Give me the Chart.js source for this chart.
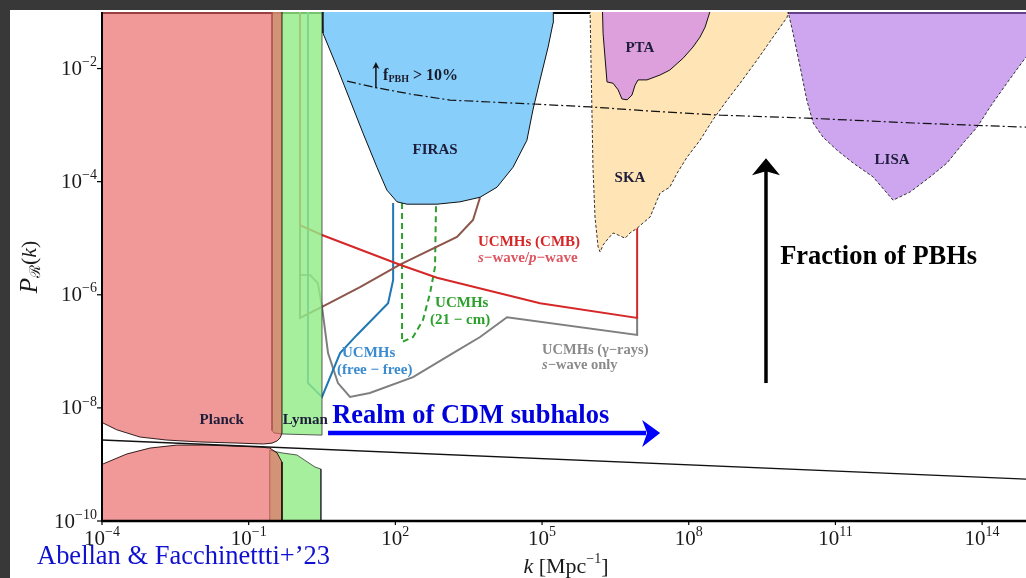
<!DOCTYPE html>
<html>
<head>
<meta charset="utf-8">
<script src="https://cdn.jsdelivr.net/npm/chart.js@4.4.1/dist/chart.umd.min.js"></script>
<style>
  html, body { margin: 0; padding: 0; background: #383838; overflow: hidden; }
  canvas { display: block; }
</style>
</head>
<body>
<canvas id="c" width="1026" height="578"></canvas>
<script>
// ---- axes: k in Mpc^-1, curvature power spectrum P_R(k) ----
const kRange = [1e-4, 7.9e14];
const pRange = [1e-10, 1e-1];
const xTickExps = [-4, -1, 2, 5, 8, 11, 14];
const yTickExps = [-10, -8, -6, -4, -2];

// ---- excluded / sensitivity regions, outlines as [k, P] ----
const planckUpper = [[8e-5, 0.2], [8e-5, 5.6e-9], [1.05e-4, 5.4e-9], [2.0e-4, 4.1e-9], [6.0e-4, 3.05e-9],
  [2.1e-3, 2.7e-9], [1.0e-2, 2.5e-9], [4.8e-2, 2.4e-9], [0.2, 2.3e-9], [0.3, 2.38e-9], [0.38, 2.6e-9],
  [0.44, 2.95e-9], [0.48, 3.6e-9], [0.48, 0.2]];
const planckLower = [[8e-5, 1e-11], [8e-5, 0.95e-9], [1.05e-4, 1.02e-9], [3.2e-4, 1.53e-9], [9.6e-4, 1.95e-9],
  [3.4e-3, 2.2e-9], [1.4e-2, 2.2e-9], [0.17, 2.03e-9], [0.27, 1.95e-9], [0.38, 1.6e-9], [0.48, 1.1e-9], [0.48, 1e-11]];
const lymanUpper = [[0.3, 0.2], [0.3, 4.0e-9], [0.33, 3.6e-9], [0.5, 3.45e-9], [3.16, 3.3e-9], [3.16, 0.2]];
const lymanLower = [[0.27, 1e-11], [0.27, 1.8e-9], [0.38, 1.66e-9], [0.5, 1.59e-9], [0.97, 1.47e-9],
  [2.27, 9.0e-10], [3.0, 8.3e-10], [3.0, 1e-11]];
const firas = [[2.6, 0.2], [3.16, 0.1], [3.3, 0.0425], [6.4, 0.0106], [11.8, 2.77e-3], [21.8, 7.2e-4],
  [42, 1.8e-4], [67, 7.1e-5], [108, 4.4e-5], [173, 4.0e-5], [711, 4.0e-5], [2100, 4.4e-5], [5400, 5.3e-5],
  [1.2e4, 8.0e-5], [2.55e4, 1.8e-4], [4.9e4, 5.4e-4], [6.5e4, 1.85e-3], [9.1e4, 6.3e-3], [1.33e5, 0.024],
  [1.68e5, 0.064], [1.7e5, 0.2]];
const pta = [[1.69e6, 0.2], [1.77e6, 0.042], [2.13e6, 5.8e-3], [2.83e6, 5.5e-3], [3.6e6, 4.2e-3],
  [4.3e6, 2.9e-3], [5.5e6, 2.8e-3], [6.9e6, 3.4e-3], [8.0e6, 5.1e-3], [9.2e6, 6.3e-3], [1.4e7, 6.3e-3],
  [2.6e7, 7.7e-3], [4.1e7, 9.4e-3], [7.7e7, 0.0153], [1.22e8, 0.024], [1.7e8, 0.036], [2.16e8, 0.054],
  [2.7e8, 0.1], [2.9e8, 0.2]];
const ska = [[9.6e5, 0.2], [9.6e5, 0.1], [1.1e6, 1.8e-4], [1.21e6, 2.37e-5], [1.4e6, 7.0e-6], [1.54e6, 5.7e-6],
  [1.77e6, 7.6e-6], [2.13e6, 9.3e-6], [2.83e6, 1.24e-5], [3.6e6, 1.14e-5], [5.0e6, 1.0e-5], [6.3e6, 1.24e-5],
  [8.8e6, 1.5e-5], [1.16e7, 1.86e-5], [1.62e7, 2.37e-5], [2.25e7, 4.7e-5], [2.6e7, 6.3e-5], [4.1e7, 8.0e-5],
  [5.8e7, 1.42e-4], [9.2e7, 2.7e-4], [1.7e8, 5.4e-4], [3.1e8, 1.23e-3], [6.1e8, 2.77e-3], [1.12e9, 5.5e-3],
  [2.5e9, 0.0142], [5.3e9, 0.036], [1.03e10, 0.081], [1.08e10, 0.1], [1.1e10, 0.2]];
const lisa = [[1.08e10, 0.2], [1.08e10, 0.1], [1.36e10, 0.042], [1.9e10, 0.0106], [2.6e10, 2.77e-3],
  [3.5e10, 1.09e-3], [5.6e10, 6.1e-4], [1.08e11, 3.6e-4], [2.3e11, 2.14e-4], [5.9e11, 1.21e-4],
  [1.51e12, 4.7e-5], [3.4e12, 6.6e-5], [8.6e12, 1.21e-4], [1.92e13, 2.14e-4], [4.1e13, 4.8e-4],
  [7.9e13, 9.2e-4], [1.46e14, 2.1e-3], [3.2e14, 5.5e-3], [7.9e14, 0.016], [1.5e15, 0.04], [1.5e15, 0.2]];

// ---- curves ----
const primordial = [[1e-4, 2.7e-9], [7.9e14, 5.5e-10]];
const pbhTenPercent = [[10.3, 6.0e-3], [35, 4.7e-3], [200, 3.55e-3], [1310, 2.77e-3], [6.5e4, 2.36e-3],
  [9.6e5, 2.1e-3], [1.62e7, 1.77e-3], [4.4e8, 1.5e-3], [2.6e10, 1.33e-3], [3.9e12, 1.09e-3], [7.9e14, 9.2e-4]];
const ucmhCMB = [[1.12, 0.2], [1.12, 1.7e-5], [3.16, 1.14e-5], [124, 3.4e-6], [711, 2.0e-6], [9.1e4, 7.1e-7],
  [8.8e6, 3.9e-7], [8.8e6, 3e-5]];
const ucmhCMBp = [[1.12, 0.2], [1.12, 3.9e-7], [3.16, 6.1e-7], [18.9, 1.37e-6], [124, 3.4e-6], [1820, 1.05e-5],
  [3870, 2.1e-5], [5400, 5.3e-5]];
const ucmhFreeFree = [[1.63, 0.2], [1.63, 2.75e-8], [3.16, 1.56e-8], [7.4, 9.3e-8], [16.4, 1.95e-7],
  [71, 7.1e-7], [90, 1.82e-6], [90, 4.2e-5]];
const ucmh21cm = [[137, 4.2e-5], [137, 1.46e-7], [230, 1.79e-7], [368, 3.6e-7], [512, 1.07e-6], [647, 3.1e-6],
  [679, 4.2e-5]];
const ucmhGamma = [[1.12, 2.23e-6], [1.8, 2.23e-6], [2.6, 1.6e-6], [3.16, 6.1e-7], [4.2, 9.3e-8], [6.7, 2.75e-8],
  [11.8, 1.56e-8], [30, 1.83e-8], [230, 3.5e-8], [1510, 9.3e-8], [5400, 1.79e-7], [1.92e4, 4.0e-7],
  [8.8e6, 1.95e-7], [8.8e6, 3.9e-7]];

const SERIF = "'Liberation Serif','DejaVu Serif',serif";
const toXY = arr => arr.map(([x, y]) => ({ x, y }));

function area(label, pts, fill, border, order, dash) {
  return {
    label, data: toXY(pts), showLine: true, fill: 'shape', backgroundColor: fill,
    borderColor: border, borderWidth: 1, borderDash: dash || [], pointRadius: 0, order
  };
}
function curve(label, pts, color, width, order, dash) {
  return {
    label, data: toXY(pts), showLine: true, fill: false, borderColor: color,
    borderWidth: width, borderDash: dash || [], pointRadius: 0, order
  };
}

const datasets = [
  curve('UCMHs (CMB) s-wave', ucmhCMB, '#d62728', 2, 60),
  curve('UCMHs (CMB) p-wave', ucmhCMBp, '#8c564b', 2, 60),
  curve('UCMHs (free-free)', ucmhFreeFree, '#1f77b4', 2, 60),
  curve('UCMHs (21-cm)', ucmh21cm, '#2ca02c', 2, 60, [6, 4]),
  curve('UCMHs (gamma-rays)', ucmhGamma, '#7f7f7f', 2, 60),
  area('FIRAS', firas, 'rgb(135,206,250)', '#111', 55),
  area('SKA', ska, 'rgb(255,228,181)', '#333', 50, [3, 2]),
  area('PTA', pta, 'rgb(221,160,221)', '#111', 45),
  area('LISA', lisa, 'rgba(173,107,230,0.6)', '#333', 45, [3, 2]),
  area('Lyman-alpha', lymanUpper, 'rgba(146,236,136,0.82)', 'rgba(40,40,40,0.75)', 40),
  area('Lyman-alpha (low)', lymanLower, 'rgba(146,236,136,0.82)', 'rgba(40,40,40,0.75)', 40),
  area('Planck', planckUpper, 'rgba(233,97,97,0.65)', 'rgba(20,0,0,0.85)', 30),
  area('Planck (low)', planckLower, 'rgba(233,97,97,0.65)', 'rgba(20,0,0,0.85)', 30),
  curve('Primordial spectrum', primordial, '#111', 1.4, 10),
  curve('f_PBH > 10%', pbhTenPercent, '#111', 1.2, 5, [9, 3, 2, 3])
];

// runs of text with individual fonts and vertical offsets
function drawRuns(ctx, runs, x, y, align, color) {
  let total = 0;
  for (const r of runs) { ctx.font = r.f; r.w = ctx.measureText(r.t).width; total += r.w; }
  let cx = align === 'center' ? x - total / 2 : align === 'right' ? x - total : x;
  ctx.textAlign = 'left';
  ctx.textBaseline = 'middle';
  for (const r of runs) {
    ctx.font = r.f; ctx.fillStyle = r.c || color;
    ctx.fillText(r.t, cx, y + (r.dy || 0));
    cx += r.w;
  }
}
function drawFit(ctx, text, font, x, y, width, color) {
  ctx.font = font;
  const w = ctx.measureText(text).width;
  ctx.save();
  ctx.translate(x, y);
  ctx.scale(width / w, 1);
  ctx.textAlign = 'left'; ctx.textBaseline = 'middle';
  ctx.fillStyle = color;
  ctx.fillText(text, 0, 0);
  ctx.restore();
}
const bold = s => `bold ${s}px ${SERIF}`;
const bi = s => `italic bold ${s}px ${SERIF}`;
const reg = s => `${s}px ${SERIF}`;
const it = s => `italic ${s}px ${SERIF}`;

// labels placed at [k, P]
const regionNames = [
  { t: 'Planck', k: 0.028, p: 6.1e-9, a: 'center' },
  { t: 'Lyman', k: 0.5, p: 6.1e-9, a: 'left' },
  { t: 'FIRAS', k: 650, p: 3.6e-4, a: 'center' },
  { t: 'PTA', k: 1.0e7, p: 0.023, a: 'center' },
  { t: 'SKA', k: 6.3e6, p: 1.16e-4, a: 'center' },
  { t: 'LISA', k: 1.44e12, p: 2.4e-4, a: 'center' }
];
const curveNames = [
  { runs: [{ t: 'UCMHs (CMB)', f: bold(15) }], k: 4900, p: 8.6e-6, c: '#d62728' },
  { runs: [{ t: 's', f: bi(15) }, { t: '\u2212wave/', f: bold(15) }, { t: 'p', f: bi(15) }, { t: '\u2212wave', f: bold(15) }], k: 4900, p: 4.5e-6, c: '#de5560' },
  { runs: [{ t: 'UCMHs', f: bold(15) }], k: 650, p: 7.1e-7, c: '#2ca02c' },
  { runs: [{ t: '(21 \u2212 cm)', f: bold(15) }], k: 512, p: 3.6e-7, c: '#2ca02c' },
  { runs: [{ t: 'UCMHs', f: bold(15) }], k: 8.1, p: 9.3e-8, c: '#3b8bd0' },
  { runs: [{ t: '(free \u2212 free)', f: bold(15) }], k: 6.4, p: 4.7e-8, c: '#3b8bd0' },
  { runs: [{ t: 'UCMHs (\u03b3\u2212rays)', f: bold(14.5) }], k: 1.0e5, p: 1.05e-7, c: '#8a8a8a' },
  { runs: [{ t: 's', f: bi(14.5) }, { t: '\u2212wave only', f: bold(14.5) }], k: 1.0e5, p: 5.7e-8, c: '#8a8a8a' }
];

const framePlugin = {
  id: 'frame',
  beforeDraw(chart) {
    const ctx = chart.ctx;
    ctx.save();
    ctx.fillStyle = '#383838';
    ctx.fillRect(0, 0, chart.width, chart.height);
    ctx.fillStyle = '#ffffff';
    ctx.fillRect(10, 10, chart.width - 10, chart.height - 10);
    ctx.restore();
  },
  beforeDatasetsDraw(chart) {
    const { ctx, chartArea: a } = chart;
    ctx.save();
    ctx.strokeStyle = '#000'; ctx.lineWidth = 2;
    ctx.beginPath(); ctx.moveTo(a.left, a.top + 1); ctx.lineTo(a.right, a.top + 1); ctx.stroke();
    ctx.restore();
  },
  afterDatasetsDraw(chart) {
    const { ctx, chartArea: a, scales: { x, y } } = chart;
    ctx.save();
    ctx.strokeStyle = '#000';
    ctx.lineWidth = 2;
    ctx.beginPath(); ctx.moveTo(a.left, a.top); ctx.lineTo(a.left, a.bottom + 1); ctx.stroke();
    ctx.lineWidth = 2.5;
    ctx.beginPath(); ctx.moveTo(a.left - 1, a.bottom); ctx.lineTo(a.right, a.bottom); ctx.stroke();
    ctx.lineWidth = 1.2;
    for (const e of yTickExps) {
      const py = y.getPixelForValue(Math.pow(10, e));
      ctx.beginPath(); ctx.moveTo(a.left - 5, py); ctx.lineTo(a.left, py); ctx.stroke();
      drawRuns(ctx, [{ t: '10', f: reg(21) }, { t: '\u2212' + Math.abs(e), f: reg(14), dy: -7 }], a.left - 5, py + 1, 'right', '#1a1a1a');
    }
    for (const e of xTickExps) {
      const px = x.getPixelForValue(Math.pow(10, e));
      ctx.beginPath(); ctx.moveTo(px, a.bottom); ctx.lineTo(px, a.bottom + 4); ctx.stroke();
      const sup = (e < 0 ? '\u2212' : '') + Math.abs(e);
      drawRuns(ctx, [{ t: '10', f: reg(21) }, { t: sup, f: reg(14), dy: -7 }], px, a.bottom + 18, 'center', '#1a1a1a');
    }
    ctx.restore();
  },
  afterDraw(chart) {
    const { ctx, scales: { x, y } } = chart;
    const X = v => x.getPixelForValue(v), Y = v => y.getPixelForValue(v);
    ctx.save();
    // region names
    for (const r of regionNames) {
      ctx.font = bold(15); ctx.fillStyle = '#1d1d3a';
      ctx.textAlign = r.a; ctx.textBaseline = 'middle';
      ctx.fillText(r.t, X(r.k), Y(r.p));
    }
    // curve names
    for (const c of curveNames) drawRuns(ctx, c.runs, X(c.k), Y(c.p), 'left', c.c);

    // f_PBH threshold marker
    const ax = X(40), ay0 = Y(4.5e-3), ay1 = Y(0.013);
    ctx.strokeStyle = '#111'; ctx.fillStyle = '#111'; ctx.lineWidth = 1.5;
    ctx.beginPath(); ctx.moveTo(ax, ay0); ctx.lineTo(ax, ay1 + 4); ctx.stroke();
    ctx.beginPath(); ctx.moveTo(ax, ay1); ctx.lineTo(ax - 3.5, ay1 + 7); ctx.lineTo(ax, ay1 + 5); ctx.lineTo(ax + 3.5, ay1 + 7); ctx.closePath(); ctx.fill();
    drawRuns(ctx, [{ t: 'f', f: bold(16) }, { t: 'PBH', f: bold(10), dy: 3 }, { t: ' > 10%', f: bold(16) }], X(56), Y(7.4e-3), 'left', '#1a1a2a');

    // fraction-of-PBHs arrow
    const fx = X(3.8e9), fy0 = Y(2.75e-8), fy1 = Y(2.6e-4);
    ctx.strokeStyle = '#000'; ctx.fillStyle = '#000'; ctx.lineWidth = 3.5;
    ctx.beginPath(); ctx.moveTo(fx, fy0); ctx.lineTo(fx, fy1 + 12); ctx.stroke();
    ctx.beginPath(); ctx.moveTo(fx, fy1); ctx.lineTo(fx - 14, fy1 + 17); ctx.lineTo(fx, fy1 + 13); ctx.lineTo(fx + 14, fy1 + 17); ctx.closePath(); ctx.fill();
    drawFit(ctx, 'Fraction of PBHs', bold(27), X(7.4e9), Y(4.7e-6), 197, '#000');

    // CDM subhalo arrow
    const bx0 = X(4.2), bx1 = X(2.6e7), by = Y(3.6e-9);
    ctx.strokeStyle = '#0000ff'; ctx.fillStyle = '#0000ff'; ctx.lineWidth = 4.5;
    ctx.beginPath(); ctx.moveTo(bx0, by); ctx.lineTo(bx1 - 14, by); ctx.stroke();
    ctx.beginPath(); ctx.moveTo(bx1, by); ctx.lineTo(bx1 - 18, by - 13); ctx.lineTo(bx1 - 13, by); ctx.lineTo(bx1 - 18, by + 14); ctx.closePath(); ctx.fill();
    drawFit(ctx, 'Realm of CDM subhalos', bold(27), X(5.1), Y(7.2e-9), 277, '#0000dd');

    // axis titles
    drawRuns(ctx, [{ t: 'k', f: it(22) }, { t: ' [Mpc', f: reg(22) }, { t: '\u22121', f: reg(14), dy: -8 }, { t: ']', f: reg(22) }], 566, 567, 'center', '#1a1a1a');
    ctx.save();
    ctx.translate(30, 267);
    ctx.rotate(-Math.PI / 2);
    drawRuns(ctx, [{ t: 'P', f: it(25) }, { t: '\u211b', f: reg(15), dy: 6 }, { t: '(', f: reg(22) }, { t: 'k', f: it(22) }, { t: ')', f: reg(22) }], 0, 0, 'center', '#1a1a1a');
    ctx.restore();

    // citation
    drawFit(ctx, 'Abellan & Facchinettti+\u201923', reg(27), 37, 557, 293, '#1010d0');
    ctx.restore();
  }
};

new Chart(document.getElementById('c'), {
  type: 'scatter',
  data: { datasets },
  options: {
    responsive: false,
    animation: false,
    events: [],
    layout: { padding: { top: 12, right: 0, left: 0, bottom: 0 } },
    plugins: { legend: { display: false }, tooltip: { enabled: false } },
    scales: {
      x: {
        type: 'logarithmic', min: kRange[0], max: kRange[1],
        grid: { display: false }, border: { display: false }, ticks: { display: false },
        afterFit: s => { s.height = 57; }
      },
      y: {
        type: 'logarithmic', min: pRange[0], max: pRange[1],
        grid: { display: false }, border: { display: false }, ticks: { display: false },
        afterFit: s => { s.width = 102; }
      }
    }
  },
  plugins: [framePlugin]
});
</script>
</body>
</html>
